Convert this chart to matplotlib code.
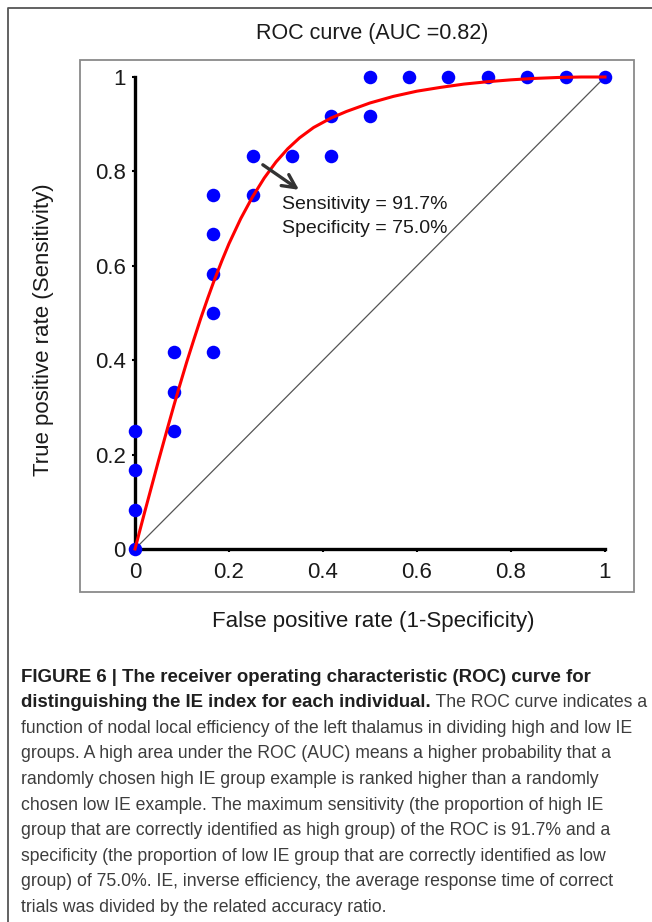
import matplotlib
matplotlib.use('Agg')
import matplotlib.pyplot as plt
from matplotlib.patches import Rectangle
from matplotlib.lines import Line2D

plt.rcParams['font.family'] = ['Liberation Sans', 'DejaVu Sans']

# puntos observados (FPR, TPR)
fpr_obs = [0, 0, 0, 0,
           0.083, 0.083, 0.083,
           0.167, 0.167, 0.167, 0.167, 0.167,
           0.25, 0.25,
           0.333,
           0.417, 0.417,
           0.5, 0.5,
           0.583, 0.667, 0.75, 0.833, 0.917, 1.0]
tpr_obs = [0, 0.083, 0.167, 0.25,
           0.25, 0.333, 0.417,
           0.417, 0.5, 0.583, 0.667, 0.75,
           0.75, 0.833,
           0.833,
           0.833, 0.917,
           0.917, 1.0,
           1.0, 1.0, 1.0, 1.0, 1.0, 1.0]

# curva ajustada
fpr_fit = [0, 0.01, 0.02, 0.03, 0.04, 0.05, 0.06, 0.07, 0.083, 0.095,
           0.11, 0.125, 0.14, 0.155, 0.167, 0.185, 0.2, 0.225, 0.25, 0.275,
           0.3, 0.325, 0.35, 0.38, 0.417, 0.45, 0.5, 0.55, 0.6, 0.65,
           0.7, 0.75, 0.8, 0.85, 0.9, 0.95, 1.0]
tpr_fit = [0, 0.038, 0.076, 0.113, 0.150, 0.187, 0.223, 0.259, 0.305, 0.346,
           0.396, 0.443, 0.489, 0.532, 0.565, 0.611, 0.647, 0.700, 0.746, 0.786,
           0.820, 0.848, 0.871, 0.893, 0.913, 0.927, 0.945, 0.959, 0.970, 0.978,
           0.985, 0.990, 0.994, 0.997, 0.999, 1.0, 1.0]

ticks = [0, 0.2, 0.4, 0.6, 0.8, 1.0]
tick_labels = ['0', '0.2', '0.4', '0.6', '0.8', '1']

titulo = 'ROC curve (AUC =0.82)'
sens_txt = 'Sensitivity = 91.7%'
spec_txt = 'Specificity = 75.0%'

caption_bold1 = 'FIGURE 6 | The receiver operating characteristic (ROC) curve for'
caption_bold2 = 'distinguishing the IE index for each individual.'
caption_rest2 = ' The ROC curve indicates a'
caption_lines = [
    'function of nodal local efficiency of the left thalamus in dividing high and low IE',
    'groups. A high area under the ROC (AUC) means a higher probability that a',
    'randomly chosen high IE group example is ranked higher than a randomly',
    'chosen low IE example. The maximum sensitivity (the proportion of high IE',
    'group that are correctly identified as high group) of the ROC is 91.7% and a',
    'specificity (the proportion of low IE group that are correctly identified as low',
    'group) of 75.0%. IE, inverse efficiency, the average response time of correct',
    'trials was divided by the related accuracy ratio.',
]

W, H = 652, 922
fig = plt.figure(figsize=(W/100, H/100), dpi=100)

def fx(px):
    return px/W

def fy(py):
    return 1 - py/H

#Marco exterior
fig.add_artist(Line2D([fx(8), fx(8), 1.0], [0.0, fy(8), fy(8)],
                      transform=fig.transFigure, color='#555555', lw=1.3))
#Caja del grafico
fig.add_artist(Rectangle((fx(80), fy(592)), fx(634) - fx(80), fy(60) - fy(592),
                         transform=fig.transFigure, fill=False,
                         ec='#8a8a8a', lw=1.3))

ax = fig.add_axes([fx(135), fy(549), fx(605) - fx(135), fy(77) - fy(549)])
ax.set_xlim(0, 1)
ax.set_ylim(0, 1)
ax.patch.set_alpha(0)
for s in ['top', 'right']:
    ax.spines[s].set_visible(False)
for s in ['left', 'bottom']:
    ax.spines[s].set_linewidth(2.4)
    ax.spines[s].set_color('black')

ax.plot([0, 1], [0, 1], color='#555555', lw=0.9, zorder=2)
ax.scatter(fpr_obs, tpr_obs, s=95, color='#0000ff', zorder=3, clip_on=False,
           linewidths=0)
ax.plot(fpr_fit, tpr_fit, color='#ff0000', lw=2.2, zorder=4, clip_on=False,
        solid_joinstyle='round')

ax.set_xticks(ticks)
ax.set_xticklabels(tick_labels)
ax.set_yticks(ticks)
ax.set_yticklabels(tick_labels)
ax.tick_params(axis='x', direction='out', length=2.5, width=1.5, pad=7,
               labelsize=16, colors='black')
ax.tick_params(axis='y', direction='out', length=2.5, width=1.5, pad=4,
               labelsize=16, colors='black')
for lab in ax.get_xticklabels() + ax.get_yticklabels():
    lab.set_color('#1a1a1a')

ax.annotate('', xy=(0.349, 0.761), xytext=(0.272, 0.814),
            arrowprops=dict(arrowstyle='->', color='#333333', lw=2.4,
                            mutation_scale=24, shrinkA=0, shrinkB=0),
            zorder=5)
ax.text(0.313, 0.729, sens_txt, fontsize=14, va='center', ha='left',
        color='#1a1a1a', zorder=5)
ax.text(0.313, 0.680, spec_txt, fontsize=14, va='center', ha='left',
        color='#1a1a1a', zorder=5)

fig.text(fx(372), fy(34), titulo, fontsize=15.5, ha='center', va='center',
         color='#1a1a1a')
fig.text(fx(373), fy(621), 'False positive rate (1-Specificity)', fontsize=16,
         ha='center', va='center', color='#1a1a1a')
fig.text(fx(44), fy(330), 'True positive rate (Sensitivity)', fontsize=16,
         ha='center', va='center', rotation=90, color='#1a1a1a')

#Pie de figura
x0 = fx(21)
y_lin = [677 + 25.6*i for i in range(10)]
c_bold = '#1f1f1f'
c_norm = '#3d3d3d'
fig.text(x0, fy(y_lin[0]), caption_bold1, fontsize=13.4, fontweight='bold',
         color=c_bold, va='center', ha='left')
t2 = fig.text(x0, fy(y_lin[1]), caption_bold2, fontsize=13.4, fontweight='bold',
              color=c_bold, va='center', ha='left')
fig.canvas.draw()
bb = t2.get_window_extent(renderer=fig.canvas.get_renderer())
fig.text(bb.x1/W, fy(y_lin[1]), caption_rest2, fontsize=12.7, color=c_norm,
         va='center', ha='left')
for i, linea in enumerate(caption_lines):
    fig.text(x0, fy(y_lin[i + 2]), linea, fontsize=12.7, color=c_norm,
             va='center', ha='left')

fig.savefig('out.png', dpi=100)
